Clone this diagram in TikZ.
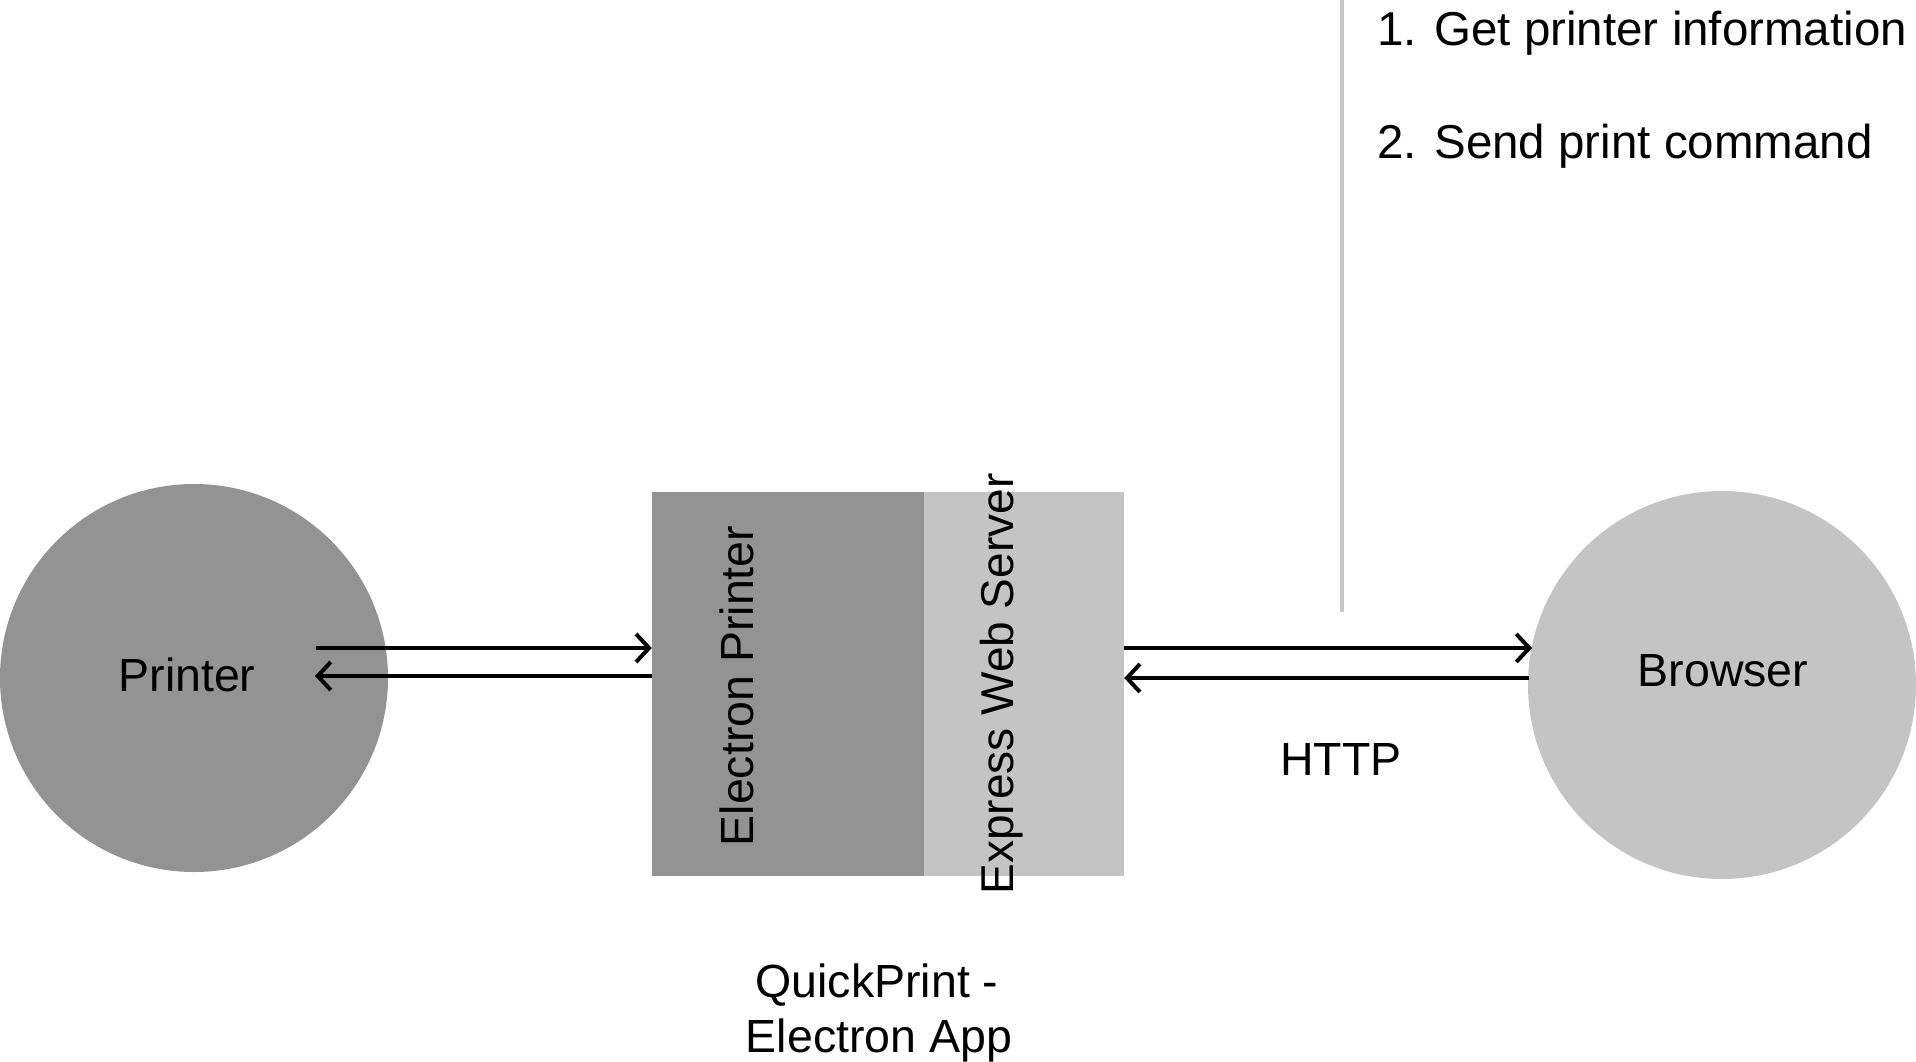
\documentclass[tikz,border=0pt]{standalone}
\usepackage{fontspec}
\setmainfont{Liberation Sans}
\usetikzlibrary{arrows.meta}
\definecolor{darkg}{HTML}{939393}
\definecolor{lightg}{HTML}{C4C4C4}
\definecolor{lineg}{HTML}{C6C6C6}
\begin{document}
\begin{tikzpicture}[x=1pt,y=-1pt,
  lbl/.style={inner sep=0pt,font=\fontsize{46.5}{55}\selectfont},
  listlbl/.style={inner sep=0pt,anchor=base west,font=\fontsize{47.5}{58}\selectfont},
  conn/.style={line width=4pt,-{Straight Barb[length=13pt,width=28pt,line width=4pt]}},
  disc/.style={circle,inner sep=0pt,minimum size=388pt,draw=none}]
\useasboundingbox (0,0) rectangle (1916,1062);
% shapes
\node[disc,fill=darkg] (printer) at (194,678) {};
\node[disc,fill=lightg] (browser) at (1722,685) {};
\fill[darkg] (652,492) rectangle (924,876);
\fill[lightg] (924,492) rectangle (1124,876);
\node[inner sep=0pt,minimum width=272pt,minimum height=384pt] (elec) at (788,684) {};
\node[inner sep=0pt,minimum width=200pt,minimum height=384pt] (expr) at (1024,684) {};
% separator line
\coordinate (sepTop) at (1342,0);
\coordinate (sepBot) at (1342,612);
\draw[lineg,line width=3.5pt] (sepTop) -- (sepBot);
% connectors
\coordinate (pA) at (316,648);
\coordinate (pB) at (315,676);
\coordinate (bA) at (1532,648);
\coordinate (bB) at (1529,678);
\draw[conn] (pA) -- (elec.west |- pA);
\draw[conn] (elec.west |- pB) -- (pB);
\draw[conn] (expr.east |- pA) -- (bA);
\draw[conn] (bB) -- (expr.east |- bB);
% labels
\node[lbl,anchor=base] (tprinter) at (187,691) {Printer};
\node[lbl,anchor=base] (tbrowser) at (1723,686) {Browser};
\node[lbl,anchor=base] (thttp) at (1341,775) {HTTP};
\node[lbl,anchor=base] (tq1) at (877,997) {QuickPrint -};
\node[lbl,anchor=base] (tq2) at (879,1052) {Electron App};
\node[lbl,anchor=base,rotate=90] (telec) at (753,686) {Electron Printer};
\node[lbl,anchor=base,rotate=90] (texpr) at (1013,684) {\fontsize{46}{55}\selectfont Express Web Server};
\node[listlbl] (l1) at (1377,46) {1. Get printer information};
\node[listlbl] (l2) at (1377,158) {2. Send print command};
\end{tikzpicture}
\end{document}
